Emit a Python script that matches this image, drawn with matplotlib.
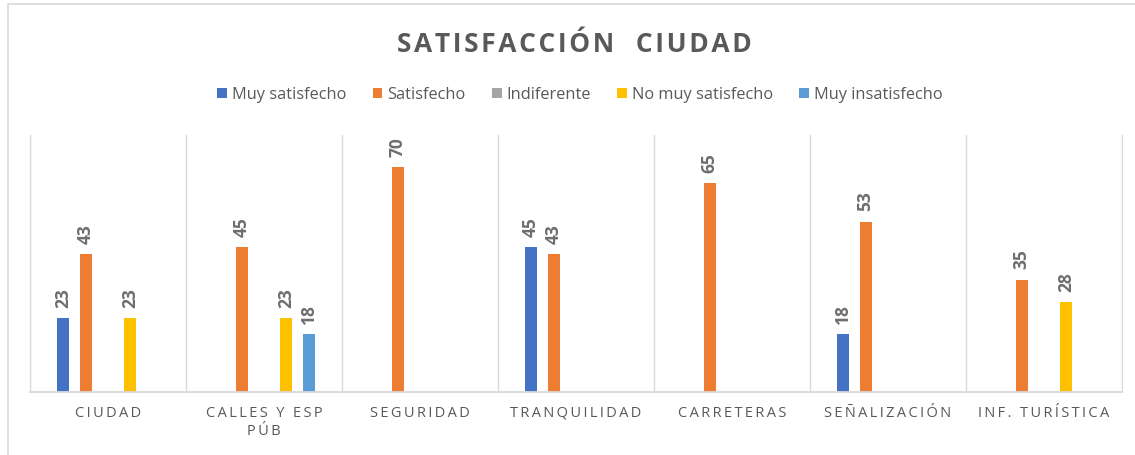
import matplotlib.pyplot as plt
import numpy as np
from matplotlib.patches import Rectangle

categorias = ["CIUDAD", "CALLES Y ESP\nPÚB", "SEGURIDAD", "TRANQUILIDAD",
              "CARRETERAS", "SEÑALIZACIÓN", "INF. TURÍSTICA"]
series = ["Muy satisfecho", "Satisfecho", "Indiferente", "No muy satisfecho", "Muy insatisfecho"]
muy_satisfecho = [23, None, None, 45, None, 18, None]
satisfecho = [43, 45, 70, 43, 65, 53, 35]
indiferente = [None] * 7
no_muy_satisfecho = [23, 23, None, None, None, None, 28]
muy_insatisfecho = [None, 18, None, None, None, None, None]
colores = ["#4472C4", "#ED7D31", "#A5A5A5", "#FFC000", "#5B9BD5"]

valores = [muy_satisfecho, satisfecho, indiferente, no_muy_satisfecho, muy_insatisfecho]

gris = "#595959"
fuente = "Open Sans"

def espaciar(txt, sep="\u2009"):
    # simula el espaciado entre letras de Excel
    return "\n".join(sep.join(linea) for linea in txt.split("\n"))

fig = plt.figure(figsize=(11.35, 4.55), dpi=100)
ax = fig.add_axes([30 / 1135, 1 - 392 / 455, (1122 - 30) / 1135, (392 - 135) / 455])

x = np.arange(len(categorias))
paso = 0.144
ancho = 0.077
for i, (nombre, vals, col) in enumerate(zip(series, valores, colores)):
    v = np.array([np.nan if a is None else a for a in vals], dtype=float)
    pos = x + (i - 2) * paso
    ax.bar(pos, v, width=ancho, color=col, label=nombre)
    for p, val in zip(pos, v):
        if not np.isnan(val):
            ax.text(p, val + 3.2, f"{int(val)}", rotation=90, ha="center", va="bottom",
                    fontsize=12.5, color="#6E6E6E", fontweight="bold", family=fuente)

ax.set_xlim(-0.5, len(categorias) - 0.5)
ax.set_ylim(0, 80)
ax.set_yticks([])
ax.set_xticks(x)
ax.set_xticklabels([espaciar(c) for c in categorias], fontsize=10.5, color=gris,
                   family=fuente, linespacing=1.3)
ax.tick_params(axis="x", length=0, pad=10)
ax.set_xticks(np.arange(-0.5, len(categorias)), minor=True)
ax.tick_params(axis="x", which="minor", length=0)
ax.grid(axis="x", which="minor", color="#D9D9D9", linewidth=1)
ax.spines["top"].set_visible(False)
for s in ["left", "right", "bottom"]:
    ax.spines[s].set_color("#D9D9D9")
ax.spines["bottom"].set_linewidth(1.3)

fig.text(0.506, 1 - 45 / 455, espaciar("SATISFACCIÓN  CIUDAD", "\u200a"), ha="center",
         va="center", fontsize=19, fontweight="bold", color=gris, family=fuente)

fig.legend(loc="center", bbox_to_anchor=(0.511, 1 - 95 / 455), ncol=5, frameon=False,
           prop={"family": fuente, "size": 11.8}, labelcolor=gris,
           handlelength=0.6, handleheight=0.6, handletextpad=0.3, columnspacing=1.6)

fig.patches.append(Rectangle((8 / 1135, -0.1), 1.2, 1 - 4 / 455 + 0.1, transform=fig.transFigure,
                             fill=False, edgecolor="#D9D9D9", linewidth=1.2))

fig.savefig("out.png", dpi=100)
